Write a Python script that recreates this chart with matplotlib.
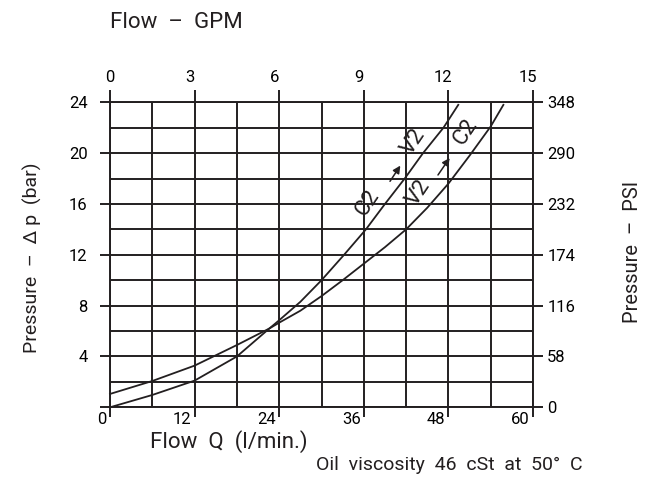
# Pressure drop vs. flow chart (C2 -> V2 / V2 -> C2)
import matplotlib
matplotlib.use('Agg')
import matplotlib.pyplot as plt
from matplotlib.transforms import ScaledTranslation

plt.rcParams['font.family'] = ['Roboto', 'DejaVu Sans']

INK = '#231f20'

# flow (l/min) and pressure drop (bar)
flow_v2_c2 = [0, 6, 12, 18, 22.6, 24, 27, 30, 33, 36, 39, 42, 45, 48, 51, 54, 55.8]
dp_v2_c2 = [1.05, 2.07, 3.28, 4.9, 6.2, 6.66, 7.6, 8.75, 10.0, 11.3, 12.6, 14.0, 15.7, 17.6, 19.8, 22.1, 23.8]

flow_c2_v2 = [0, 6, 12, 18, 22.6, 24, 27, 30, 33.2, 36.3, 39, 41.8, 44.4, 47.3, 49.4]
dp_c2_v2 = [0, 0.97, 2.1, 4.0, 6.2, 6.85, 8.3, 10.0, 12.0, 14.0, 16.0, 18.0, 20.0, 22.0, 23.8]

lpm_ticks = [0, 12, 24, 36, 48, 60]
gpm_ticks = [0, 3, 6, 9, 12, 15]
bar_ticks = [0, 4, 8, 12, 16, 20, 24]
bar_labels = ['', '4', '8', '12', '16', '20', '24']
psi_ticks = [0, 58, 116, 174, 232, 290, 348]

fig = plt.figure(figsize=(6.56, 4.88), dpi=100)
ax = fig.add_axes([110 / 656, (488 - 407.3) / 488, 423 / 656, 305 / 488])
ax.set_xlim(0, 60)
ax.set_ylim(0, 24)

# grid
ax.set_xticks(lpm_ticks)
ax.set_xticks(range(0, 61, 6), minor=True)
ax.set_yticks(bar_ticks)
ax.set_yticks(range(0, 25, 2), minor=True)
ax.set_yticklabels(bar_labels)
ax.grid(which='both', color=INK, linewidth=1.4)
ax.set_axisbelow(True)
for s in ax.spines.values():
    s.set_color(INK)
    s.set_linewidth(1.4)

ax.tick_params(which='minor', length=0)
ax.tick_params(axis='x', which='major', direction='out', length=7.2, width=1.4,
               color=INK, labelsize=12, pad=-3.6)
ax.tick_params(axis='y', which='major', direction='out', length=7.2, width=1.4,
               color=INK, labelsize=12, pad=9)

# bottom labels sit left of their tick
shift = ScaledTranslation(-3 / 100, 0, fig.dpi_scale_trans)
for lab in ax.get_xticklabels():
    lab.set_horizontalalignment('right')
    lab.set_transform(lab.get_transform() + shift)

# top axis in GPM
top = ax.secondary_xaxis('top', functions=(lambda q: q / 4, lambda g: g * 4))
top.set_xticks(gpm_ticks)
top.tick_params(direction='out', length=8.6, width=1.4, color=INK, labelsize=12, pad=4)
top.spines['top'].set_visible(False)
shift2 = ScaledTranslation(-5 / 100, 0, fig.dpi_scale_trans)
for lab in top.get_xticklabels()[1:]:
    lab.set_transform(lab.get_transform() + shift2)

# right axis in PSI
right = ax.secondary_yaxis('right', functions=(lambda p: p * 14.5, lambda s: s / 14.5))
right.set_yticks(psi_ticks)
right.tick_params(direction='out', length=7.2, width=1.4, color=INK, labelsize=12, pad=3)
right.spines['right'].set_visible(False)

# curves
ax.plot(flow_v2_c2, dp_v2_c2, color=INK, linewidth=1.3, clip_on=False)
ax.plot(flow_c2_v2, dp_c2_v2, color=INK, linewidth=1.3, clip_on=False)

# curve labels
rot = 56
lab_kw = dict(rotation=rot, ha='center', va='center', fontsize=16, color=INK)
arr_kw = dict(arrowstyle='-|>', color=INK, lw=1.1, mutation_scale=11)
ax.text(36.6, 16.1, 'C2', **lab_kw)
ax.text(43.0, 20.9, 'V2', **lab_kw)
ax.annotate('', xy=(41.4, 19.2), xytext=(39.5, 17.6), arrowprops=arr_kw)
ax.text(43.7, 16.9, 'V2', **lab_kw)
ax.text(50.5, 21.7, 'C2', **lab_kw)
ax.annotate('', xy=(48.4, 19.8), xytext=(46.3, 18.1), arrowprops=arr_kw)

# titles
fig.text(110 / 656, 1 - 22 / 488, 'Flow  –  GPM', fontsize=16, color=INK, va='center', ha='left')
fig.text(32 / 656, 1 - 258 / 488, 'Pressure  –  Δ p  (bar)', fontsize=14, color=INK,
         rotation=90, va='center', ha='center')
fig.text(632 / 656, 1 - 252 / 488, 'Pressure  –  PSI', fontsize=14.5, color=INK,
         rotation=90, va='center', ha='center')
fig.text(150 / 656, 1 - 442 / 488, 'Flow  Q  (l/min.)', fontsize=16, color=INK, va='center', ha='left')
fig.text(316 / 656, 1 - 465 / 488, 'Oil  viscosity  46  cSt  at  50°  C', fontsize=14, color=INK,
         va='center', ha='left')

fig.savefig('out.png', dpi=100)
